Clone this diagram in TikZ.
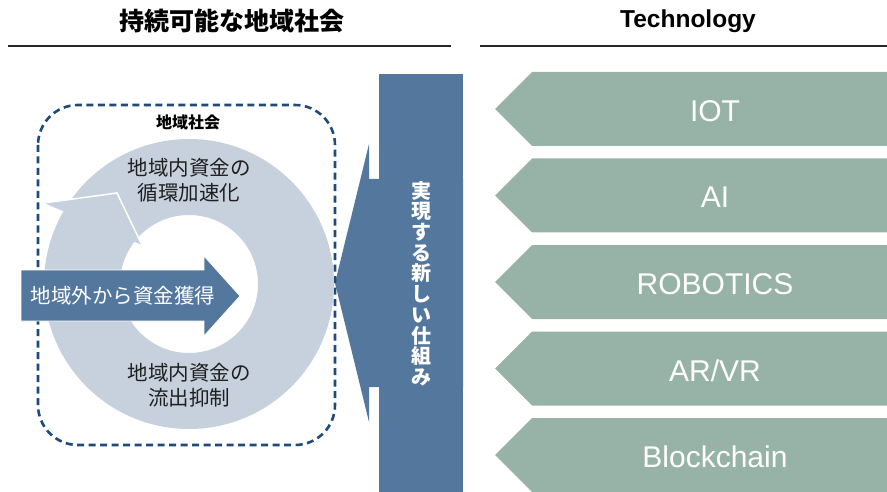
\documentclass[tikz,border=0pt]{standalone}
\usepackage{fontspec}
\setmainfont{Liberation Sans}
\newfontfamily\jp{Noto Sans CJK JP}
\definecolor{techgreen}{RGB}{151,179,167}
\definecolor{barblue}{RGB}{84,119,158}
\definecolor{ringgray}{RGB}{198,209,221}
\definecolor{dashblue}{RGB}{31,74,122}
\usetikzlibrary{positioning}

\begin{document}
\begin{tikzpicture}[x=1pt, y=-1pt,
  hdr/.style={font=\bfseries\fontsize{24.5}{28}\selectfont, inner sep=0pt},
  rule/.style={draw=black!85, line width=1.2pt},
  tech/.style={font=\fontsize{30}{34}\selectfont, text=white, inner sep=0pt},
  jtxt/.style={font=\jp\fontsize{20.5}{25}\selectfont, align=center, inner sep=0pt, text=black!88},
  bar/.style={fill=barblue, minimum width=84pt, minimum height=419pt, inner sep=0pt, text=white, align=center, font=\jp\bfseries\fontsize{20}{20.7}\selectfont},
]
  \useasboundingbox (0,0) rectangle (887,492);
  \node[hdr, font=\jp\bfseries\fontsize{25}{28}\selectfont] (lhead) at (232,21) {持続可能な地域社会};
  \node[hdr] (rhead) at (688,21) {Technology};
  \coordinate (l1) at (8,46);
  \coordinate (l2) at (451,46);
  \coordinate (r1) at (480,46);
  \coordinate (r2) at (887,46);
  \draw[rule] (l1) -- (l2);
  \draw[rule] (r1) -- (r2);

  \foreach \t [count=\i] in {IOT,AI,ROBOTICS,AR/VR,Blockchain} {
    \pgfmathsetmacro{\yt}{72+(\i-1)*86.5}
    \fill[techgreen] (887,\yt) -- (532,\yt) -- (495,\yt+37) -- (532,\yt+74) -- (887,\yt+74) -- cycle;
    \node[tech] (tech\i) at (715,\yt+39) {\t};
  }

  \fill[barblue] (463,179) -- (369,179) -- (369,144) -- (335,283) -- (369,422) -- (369,387) -- (463,387) -- cycle;
  \node[bar] (frame) at (421,283.5) {実\\現\\す\\る\\新\\し\\い\\仕\\組\\み};

  \draw[dashblue, line width=2.6pt, dash pattern=on 7pt off 4.5pt, rounded corners=40pt] (38,105) rectangle (335,445);
  \node[font=\jp\bfseries\fontsize{16}{18}\selectfont, inner sep=0pt] (area) at (188,122) {地域社会};
  \coordinate (ring) at (189,284);
  \fill[ringgray, even odd rule] (ring) circle (145pt) (ring) circle (69pt);
  \fill[ringgray] (44,203) -- (117,193) -- (142,245) -- cycle;
  \draw[white, line width=1.5pt] (44,203) -- (117,193) -- (142,245);
  \node[jtxt] (loop) at (189,180) {地域内資金の\\循環加速化};
  \node[jtxt] (leak) at (189,385) {地域内資金の\\流出抑制};

  \fill[barblue, draw=white, line width=0.8pt] (21,270) -- (204,270) -- (204,256) -- (240,296) -- (204,336) -- (204,321) -- (21,321) -- cycle;
  \node[jtxt, text=white] (inflow) at (123,296) {地域外から資金獲得};
\end{tikzpicture}
\end{document}
